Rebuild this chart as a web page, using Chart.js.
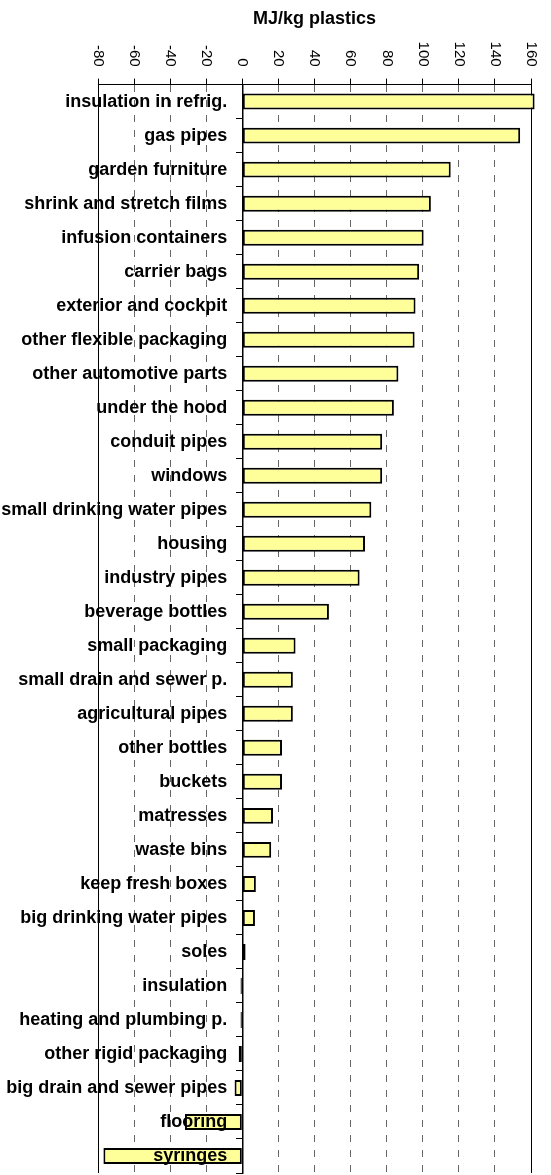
<!DOCTYPE html>
<html>
<head>
<meta charset="utf-8">
<script src="https://cdn.jsdelivr.net/npm/chart.js@4/dist/chart.umd.min.js"></script>
<style>
    body { margin: 0; background: #fff; }
    #wrap { width: 551px; height: 1175px; }
</style>
</head>
<body>
<div id="wrap"><canvas id="energyChart" width="551" height="1175"></canvas></div>
<script>
// Datos del gráfico
const categories = [
    "insulation in refrig.", "gas pipes", "garden furniture", "shrink and stretch films",
    "infusion containers", "carrier bags", "exterior and cockpit", "other flexible packaging",
    "other automotive parts", "under the hood", "conduit pipes", "windows",
    "small drinking water pipes", "housing", "industry pipes", "beverage bottles",
    "small packaging", "small drain and sewer p.", "agricultural pipes", "other bottles",
    "buckets", "matresses", "waste bins", "keep fresh boxes",
    "big drinking water pipes", "soles", "insulation", "heating and plumbing p.",
    "other rigid packaging", "big drain and sewer pipes", "flooring", "syringes",
];
const savings = [
    162, 154, 115.5, 104.5,
    100.5, 98, 96, 95.5,
    86.5, 84, 77.5, 77.5,
    71.5, 68, 65, 48,
    29.5, 28, 28, 22,
    22, 17, 16, 7.5,
    7, 1.8, -1, -1,
    -2, -4.3, -31.8, -77,
];
const xTicks = [-80, -60, -40, -20, 0, 20, 40, 60, 80, 100, 120, 140, 160];
const axisTitle = "MJ/kg plastics";

const FONT = '"Liberation Sans", Arial, sans-serif';

// Etiquetas dibujadas a mano (giradas en sentido horario y encima de las barras)
const labelPlugin = {
    id: "labelPlugin",
    afterDatasetsDraw(chart) {
        const ctx = chart.ctx;
        const xs = chart.scales.x;
        const ys = chart.scales.y;
        ctx.save();
        ctx.fillStyle = "#000";

        // categorias
        ctx.font = "bold 18px " + FONT;
        ctx.textAlign = "right";
        ctx.textBaseline = "middle";
        const right = xs.getPixelForValue(0) - 15;
        categories.forEach((c, i) => {
            ctx.fillText(c, right, ys.getPixelForValue(i));
        });

        // valores del eje x
        ctx.font = "15px " + FONT;
        xTicks.forEach((v) => {
            ctx.save();
            ctx.translate(xs.getPixelForValue(v), xs.bottom - 18);
            ctx.rotate(Math.PI / 2);
            ctx.fillText(String(v), 0, 0);
            ctx.restore();
        });
        ctx.restore();
    },
};

function edgeTick(ctx) {
    return ctx.tick && (ctx.tick.value === xTicks[0] || ctx.tick.value === xTicks[xTicks.length - 1]);
}

function initChart() {
    const ctx = document.getElementById("energyChart").getContext("2d");
    new Chart(ctx, {
        type: "bar",
        data: {
            labels: categories,
            datasets: [
                {
                    data: savings,
                    backgroundColor: "#FFFF99",
                    borderColor: "#000",
                    borderWidth: 2,
                    borderSkipped: false,
                    barPercentage: 0.47,
                    categoryPercentage: 1,
                    clip: false,
                },
            ],
        },
        options: {
            indexAxis: "y",
            responsive: false,
            animation: false,
            layout: {
                padding: { left: 98, right: 20, top: 0, bottom: 2 },
            },
            plugins: {
                legend: { display: false },
                tooltip: { enabled: false },
            },
            scales: {
                x: {
                    type: "linear",
                    position: "top",
                    min: xTicks[0],
                    max: xTicks[xTicks.length - 1],
                    ticks: { stepSize: 20, display: false },
                    grid: {
                        color: (c) => (edgeTick(c) ? "#000" : "#666"),
                        lineWidth: 1,
                        tickColor: "#000",
                        tickLength: 6,
                    },
                    border: {
                        color: "#000",
                        width: 1,
                        dash: (c) => (edgeTick(c) ? [] : [7, 8]),
                    },
                    title: {
                        display: true,
                        text: axisTitle,
                        color: "#000",
                        font: { family: FONT, size: 18, weight: "bold" },
                        padding: { top: 8, bottom: 49 },
                    },
                },
                y: {
                    position: { x: 0 },
                    offset: true,
                    ticks: { display: false },
                    grid: {
                        offset: true,
                        drawOnChartArea: false,
                        tickColor: "#000",
                        tickLength: 6,
                    },
                    border: { color: "#000", width: 1.5 },
                },
            },
        },
        plugins: [labelPlugin],
    });
}

initChart();
</script>
</body>
</html>
